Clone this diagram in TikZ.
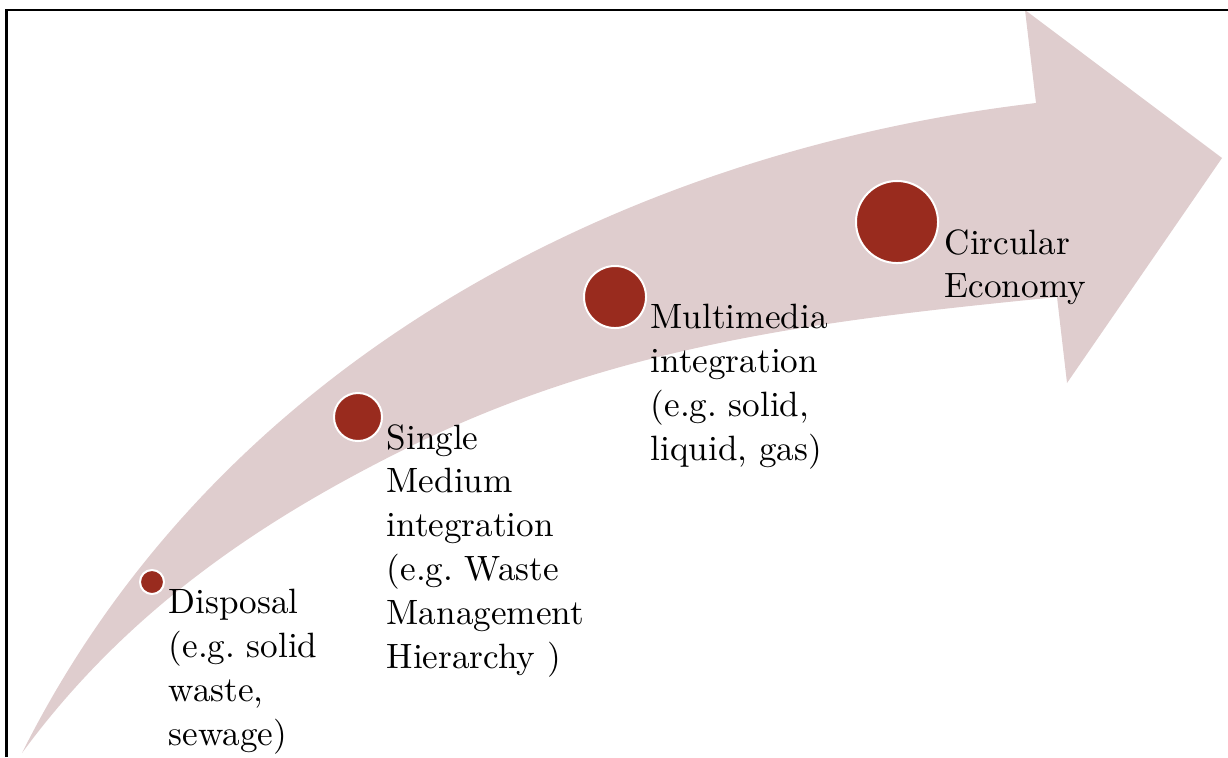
\documentclass[tikz,border=0pt]{standalone}
\usetikzlibrary{positioning}
\definecolor{arrowpink}{RGB}{223,205,206}
\definecolor{dotred}{RGB}{153,43,30}

\begin{document}
\begin{tikzpicture}[x=0.01cm,y=-0.01cm,
  stage/.style={circle,fill=dotred,draw=white,line width=0.02cm,inner sep=0pt},
  stagetext/.style={align=left,inner sep=0pt,font=\fontsize{10}{12.5}\selectfont\frenchspacing}]
\useasboundingbox (0,0) rectangle (1228,757);
% curved arrow
\fill[arrowpink] (22,753) .. controls (222,353) and (636,150) .. (1036,103)
  -- (1025,10) -- (1222,158) -- (1067,383) -- (1057,297)
  .. controls (839,319) and (621,341) .. (403,450)
  .. controls (273,515) and (132,603) .. (22,753) -- cycle;
% frame
\draw[line width=0.02cm] (6.5,757) -- (6.5,10) -- (1228,10);
% stages
\node[stage,minimum size=0.24cm] (disposal) at (152,582) {};
\node[stage,minimum size=0.48cm] (single) at (358,417) {};
\node[stage,minimum size=0.62cm] (multi) at (615,297) {};
\node[stage,minimum size=0.82cm] (circular) at (897,222) {};
\node[stagetext,below right=0.065cm and 0.03cm of disposal.east] (disposaltext) {Disposal\\(e.g. solid\\waste,\\sewage)};
\node[stagetext,below right=0.065cm and 0.03cm of single.east] (singletext) {Single\\Medium\\integration\\(e.g. Waste\\Management\\Hierarchy )};
\node[stagetext,below right=0.065cm and 0.03cm of multi.east] (multitext) {Multimedia\\integration\\(e.g. solid,\\liquid, gas)};
\node[stagetext,below right=0.065cm and 0.05cm of circular.east] (circulartext) {Circular\\Economy};
\end{tikzpicture}
\end{document}
